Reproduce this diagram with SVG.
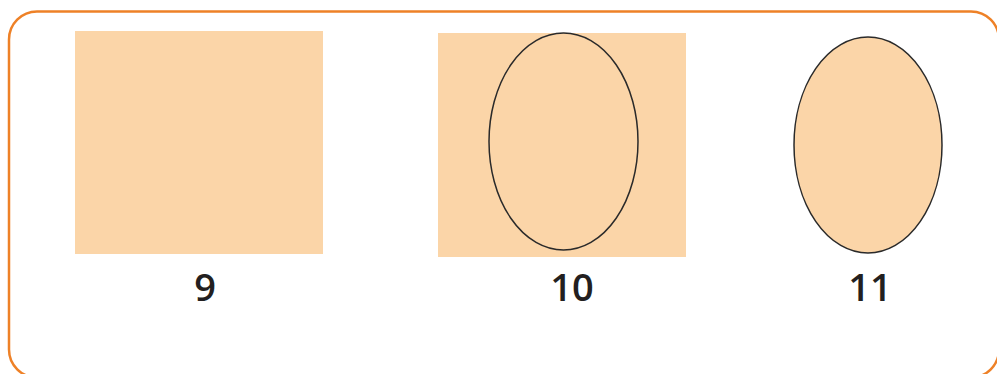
<svg xmlns="http://www.w3.org/2000/svg" width="997" height="374" viewBox="0 0 997 374">
<style>
.fill{fill:#fbd5a8}
.ol{fill:#fbd5a8;stroke:#2a2a2a;stroke-width:1.5}
.lbl{font-family:"Open Sans","Noto Sans",sans-serif;font-weight:600;font-size:38px;fill:#231f20;text-anchor:middle}
</style>
<rect x="9" y="11.5" width="990" height="366" rx="28" ry="28" fill="#fff" stroke="#ee8127" stroke-width="2.5"/>
<g id="n9">
<rect class="fill" x="75" y="31" width="248" height="223"/>
<text class="lbl" x="205" y="301">9</text>
</g>
<g id="n10">
<rect class="fill" x="438" y="33" width="248" height="224"/>
<ellipse class="ol" cx="563.5" cy="141.5" rx="74.5" ry="108.5"/>
<text class="lbl" x="572" y="301">10</text>
</g>
<g id="n11">
<ellipse class="ol" cx="868" cy="145" rx="74" ry="108"/>
<text class="lbl" x="870" y="301">11</text>
</g>
<g id="connectors"/>
</svg>
